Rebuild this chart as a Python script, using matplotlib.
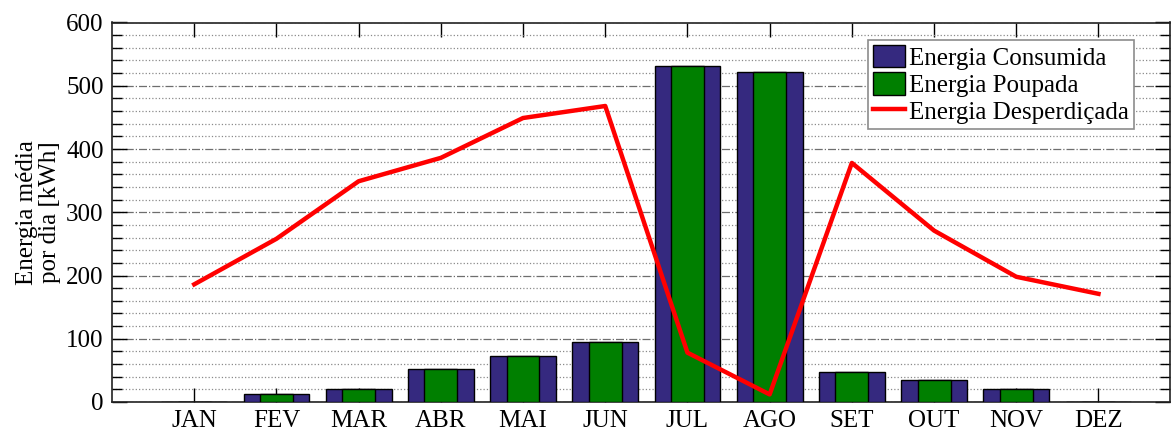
import numpy as np
import matplotlib
matplotlib.use("Agg")
import matplotlib.pyplot as plt
from matplotlib.ticker import MultipleLocator

plt.rcParams["font.family"] = ["Liberation Serif", "DejaVu Serif"]

MESES = ["JAN", "FEV", "MAR", "ABR", "MAI", "JUN",
         "JUL", "AGO", "SET", "OUT", "NOV", "DEZ"]
CONSUMIDA = [0.5, 12, 21, 52, 72, 95, 532, 522, 48, 34, 21, 0.5]
POUPADA = [0.5, 12, 21, 52, 72, 95, 532, 522, 48, 34, 21, 0.5]
DESPERDICADA = [186, 258, 349, 386, 449, 468, 78, 12, 378, 271, 198, 171]

fig = plt.figure(figsize=[11.71, 4.34], dpi=100, facecolor="white")
ax = fig.add_axes([112 / 1171, 32 / 434, 1058 / 1171, 379.5 / 434])

x = np.arange(1, len(MESES) + 1)
b1 = ax.bar(x, CONSUMIDA, width=0.8, color="#35297f", edgecolor="black",
            linewidth=1, label="Energia Consumida", zorder=3)
b2 = ax.bar(x, POUPADA, width=0.4, color="#007f00", edgecolor="black",
            linewidth=1, label="Energia Poupada", zorder=4)
l1, = ax.plot(x, DESPERDICADA, color="#ff0000", linewidth=3.2,
              label="Energia Desperdiçada", zorder=5)

ax.set_xlim(0, 12.87)
ax.set_ylim(0, 600)
ax.set_xticks(x)
ax.set_xticklabels(MESES)
ax.yaxis.set_major_locator(MultipleLocator(100))
ax.yaxis.set_minor_locator(MultipleLocator(20))

# matlab-like ticks: inward on all sides
ax.tick_params(axis="both", which="both", direction="in",
               top=True, right=True, labelsize=18)
ax.tick_params(axis="x", which="major", length=10, width=1, pad=6)
ax.tick_params(axis="y", which="major", length=11, width=1, pad=6)
ax.tick_params(axis="y", which="minor", length=7, width=1)
ax.tick_params(axis="x", which="minor", bottom=False, top=False)

ax.grid(axis="y", which="major", linestyle="-.", color="#6e6e6e",
        linewidth=0.9, zorder=0)
ax.grid(axis="y", which="minor", linestyle=":", color="#8a8a8a",
        linewidth=0.9, zorder=0)
ax.set_axisbelow(True)
for sp in ax.spines.values():
    sp.set_linewidth(1.2)
    sp.set_color("#222222")

ax.set_ylabel("Energia média\npor dia [kWh]", fontsize=18, labelpad=4,
              linespacing=1.05)

leg = ax.legend([b1, b2, l1],
                ["Energia Consumida", "Energia Poupada", "Energia Desperdiçada"],
                loc="upper right", bbox_to_anchor=(0.966, 0.954),
                fontsize=18, fancybox=False, edgecolor="#8c8c8c",
                framealpha=1, handlelength=1.3, handleheight=1.0,
                handletextpad=0.15, borderpad=0.2, labelspacing=0.1,
                borderaxespad=0)
leg.get_frame().set_linewidth(1.2)

plt.savefig("out.png", dpi=100)
plt.close()
